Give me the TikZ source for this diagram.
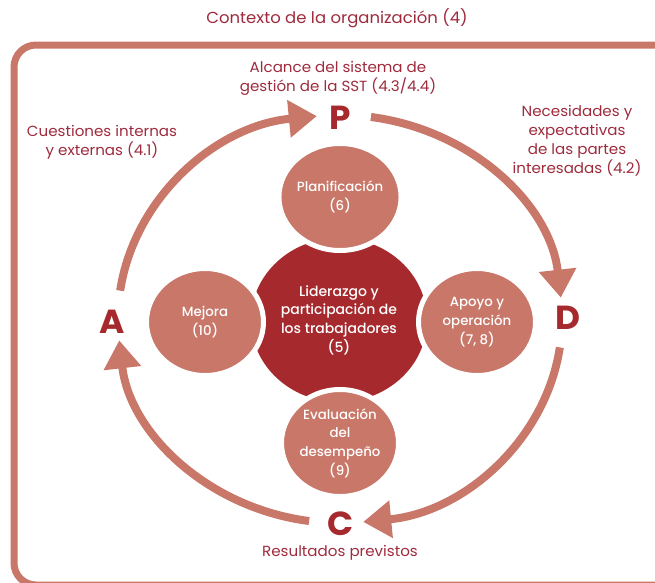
\documentclass[tikz,border=0pt]{standalone}
\usepackage{fontspec}
\setmainfont{Poppins}[FakeStretch=1.03]
\IfFontExistsTF{Poppins Medium}
	{\newfontfamily\clausefont{Poppins Medium}}
	{\newfontfamily\clausefont{Poppins}[FakeBold=0.8]}
\usepackage{tikz}
\usetikzlibrary{arrows.meta,shapes.geometric}

\definecolor{salmon}{HTML}{C87769}
\definecolor{wine}{HTML}{A6292D}
\definecolor{inkred}{HTML}{9E2A3C}

\begin{document}
\begin{tikzpicture}[
	x=0.75pt, y=-0.75pt,
	stage/.style={
		ellipse, fill=salmon, draw=white, line width=3.75pt,
		minimum width=87.75pt, minimum height=80.25pt, inner sep=0pt,
		text=white, align=center, font=\clausefont\fontsize{10}{14}\selectfont
	},
	lead/.style={
		ellipse, fill=wine, minimum width=132pt, minimum height=123pt,
		inner sep=0pt, text=white, align=center,
		font=\clausefont\fontsize{10.5}{14}\selectfont
	},
	letter/.style={
		text=wine, inner sep=0pt, font=\fontsize{25}{25}\selectfont\bfseries
	},
	note/.style={
		text=inkred, align=center, inner sep=0pt,
		font=\fontsize{11}{14.25}\selectfont
	},
	cyc/.style={
		draw=salmon, line width=6pt,
		-{Triangle[length=21pt, width=27pt]}
	}
]
\clip (0,0) rectangle (655,582);

% context frame
\draw[salmon, line width=5.25pt, rounded corners=16.5pt] (14,45) rectangle (700,585);
\node[note, font=\fontsize{12}{14}\selectfont] (context) at (337,18) {Contexto de la organización (4)};

% PDCA ring
\coordinate (hub) at (340,319);
\foreach \s/\e in {188/264, 278/354, 8/84, 98/174} {
	\draw[cyc] ([shift={(\s:222 and 204)}]hub)
		arc[start angle=\s, end angle=\e, x radius=222, y radius=204];
}

\node[letter] (P) at (340,118) {P};
\node[letter] (D) at (568,318) {D};
\node[letter] (C) at (341,524) {C};
\node[letter] (A) at (112,322) {A};

\node[note] (scope) at (338,78) {Alcance del sistema de\\gestión de la SST (4.3/4.4)};
\node[note] (issues) at (102,142) {Cuestiones internas\\y externas (4.1)};
\node[note] (needs) at (577,141) {Necesidades y\\expectativas\\de las partes\\interesadas (4.2)};
\node[note] (results) at (340,553) {Resultados previstos};

% clauses
\node[lead] (lead) at (339,320) {Liderazgo y\\participación de\\los trabajadores\\(5)};
\node[stage] (plan) at (340,197) {Planificación\\(6)};
\node[stage] (support) at (477,322) {Apoyo y\\operación\\(7, 8)};
\node[stage] (eval) at (340,443) {Evaluación\\del\\desempeño\\(9)};
\node[stage] (improve) at (205,322) {Mejora\\(10)};
\end{tikzpicture}
\end{document}
